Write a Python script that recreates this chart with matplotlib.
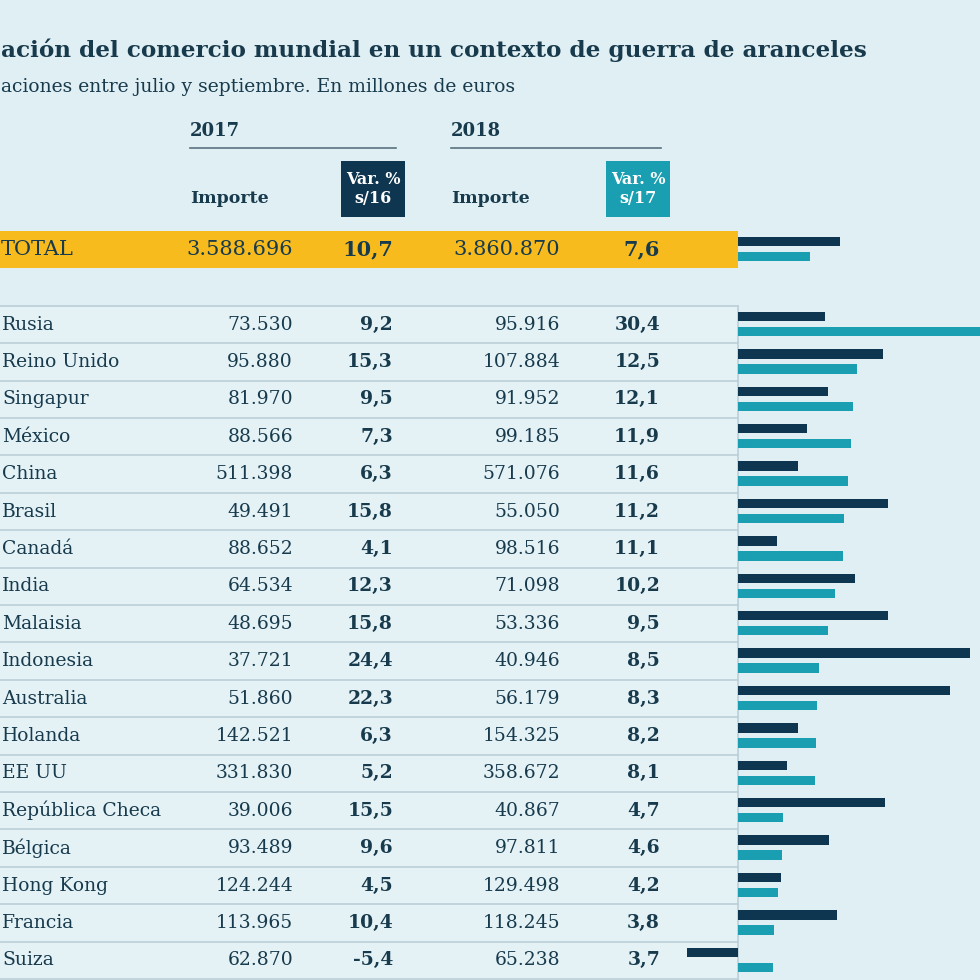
import matplotlib.pyplot as plt
from matplotlib.patches import Rectangle

# data
countries = ["Rusia", "Reino Unido", "Singapur", "México", "China", "Brasil",
             "Canadá", "India", "Malaisia", "Indonesia", "Australia", "Holanda",
             "EE UU", "República Checa", "Bélgica", "Hong Kong", "Francia", "Suiza"]
imp17 = [73530, 95880, 81970, 88566, 511398, 49491, 88652, 64534, 48695,
         37721, 51860, 142521, 331830, 39006, 93489, 124244, 113965, 62870]
var17 = [9.2, 15.3, 9.5, 7.3, 6.3, 15.8, 4.1, 12.3, 15.8, 24.4, 22.3, 6.3,
         5.2, 15.5, 9.6, 4.5, 10.4, -5.4]
imp18 = [95916, 107884, 91952, 99185, 571076, 55050, 98516, 71098, 53336,
         40946, 56179, 154325, 358672, 40867, 97811, 129498, 118245, 65238]
var18 = [30.4, 12.5, 12.1, 11.9, 11.6, 11.2, 11.1, 10.2, 9.5, 8.5, 8.3, 8.2,
         8.1, 4.7, 4.6, 4.2, 3.8, 3.7]
total = {"imp17": 3588696, "var17": 10.7, "imp18": 3860870, "var18": 7.6}

BG = "#e0eff4"
TABLE_BG = "#e4f2f6"
NAVY = "#0e3650"
TEAL = "#1a9fb2"
GOLD = "#f8bb1d"
TXT = "#173a4c"
LINE = "#bccfd7"
SERIF = "DejaVu Serif"

ROW0, PITCH = 324.5, 37.4  # pixel centre of first country row, row height


def fmt_int(v):
    return f"{v:,}".replace(",", ".")


def fmt_pct(v):
    return f"{v:.1f}".replace(".", ",")


def row_y(i):
    return ROW0 + PITCH * i


fig = plt.figure(figsize=(9.8, 9.8), dpi=100, facecolor=BG)
ax = fig.add_axes([0, 0, 1, 1])
ax.set_xlim(0, 980)
ax.set_ylim(980, 0)
ax.axis("off")

# title
ax.text(1, 50, "ación del comercio mundial en un contexto de guerra de aranceles",
        fontsize=16.7, fontweight="bold", color=TXT, family=SERIF, va="center")
ax.text(1, 87, "aciones entre julio y septiembre. En millones de euros",
        fontsize=13.5, color=TXT, family=SERIF, va="center")

# headers
for x0, x1, year in [(190, 396, "2017"), (451, 661, "2018")]:
    ax.text(x0, 131, year, fontsize=13, color=TXT, family=SERIF,
            fontweight="bold", va="center")
    ax.plot([x0, x1], [148, 148], color="#5a7380", lw=1.2)
    ax.text(x0, 198, "Importe", fontsize=12.5, color=TXT, family=SERIF,
            fontweight="bold", va="center")
for x0, col, lab in [(341, NAVY, "Var. %\ns/16"), (606, TEAL, "Var. %\ns/17")]:
    ax.add_patch(Rectangle((x0, 161), 64, 56, color=col, lw=0))
    ax.text(x0 + 32, 189, lab, fontsize=11.5, color="white", family=SERIF,
            fontweight="bold", ha="center", va="center", linespacing=1.15)

# total band
ty = row_y(-2)
ax.add_patch(Rectangle((0, ty - 18.5), 738, 37, color=GOLD, lw=0))
ax.text(1, ty, "TOTAL", fontsize=15, color=TXT, family=SERIF, va="center")
ax.text(293, ty, fmt_int(total["imp17"]), fontsize=15, color=TXT, family=SERIF,
        ha="right", va="center")
ax.text(393, ty, fmt_pct(total["var17"]), fontsize=15, color=TXT, family=SERIF,
        fontweight="bold", ha="right", va="center")
ax.text(560, ty, fmt_int(total["imp18"]), fontsize=15, color=TXT, family=SERIF,
        ha="right", va="center")
ax.text(660, ty, fmt_pct(total["var18"]), fontsize=15, color=TXT, family=SERIF,
        fontweight="bold", ha="right", va="center")

# table body
top = row_y(-0.5)
ax.add_patch(Rectangle((0, top), 738, 980 - top, color=TABLE_BG, lw=0, zorder=0))
for k in range(len(countries) + 1):
    y = row_y(k - 0.5)
    ax.plot([0, 738], [y, y], color=LINE, lw=1.2)
ax.plot([738, 738], [top, 980], color=LINE, lw=1.2)

for i, name in enumerate(countries):
    y = row_y(i)
    ax.text(2, y, name, fontsize=13.5, color=TXT, family=SERIF, va="center")
    ax.text(293, y, fmt_int(imp17[i]), fontsize=13.5, color=TXT, family=SERIF,
            ha="right", va="center")
    ax.text(393, y, fmt_pct(var17[i]), fontsize=13.5, color=TXT, family=SERIF,
            fontweight="bold", ha="right", va="center")
    ax.text(560, y, fmt_int(imp18[i]), fontsize=13.5, color=TXT, family=SERIF,
            ha="right", va="center")
    ax.text(660, y, fmt_pct(var18[i]), fontsize=13.5, color=TXT, family=SERIF,
            fontweight="bold", ha="right", va="center")

# bars: separate axes, 9.5 px per percentage point, zero at x=738
bx = fig.add_axes([680 / 980, 0, 300 / 980, 750 / 980])
bx.set_xlim(-58 / 9.5, 242 / 9.5)
bx.set_ylim((980 - ROW0) / PITCH, (230 - ROW0) / PITCH)
bx.axis("off")
bx.patch.set_alpha(0)

rows = [-2] + list(range(len(countries)))
v17 = [total["var17"]] + var17
v18 = [total["var18"]] + var18
bx.barh([r - 0.214 for r in rows], v17, height=0.25, color=NAVY, lw=0)
bx.barh([r + 0.187 for r in rows], v18, height=0.25, color=TEAL, lw=0)

fig.savefig("out.png", dpi=100, facecolor=BG)
